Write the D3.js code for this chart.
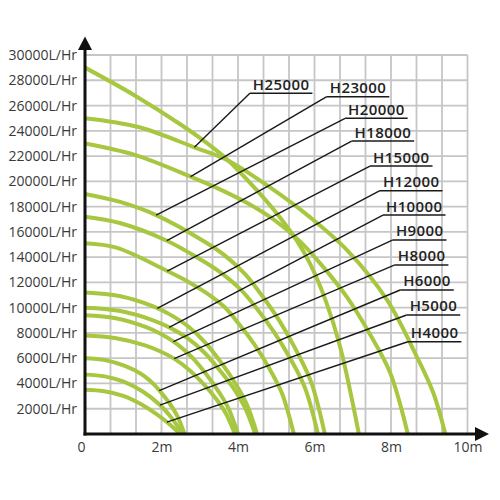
<!DOCTYPE html>
<html>
<head>
<meta charset="utf-8">
<script src="https://cdn.jsdelivr.net/npm/d3@7"></script>
<style>
  html, body { margin: 0; padding: 0; background: #fff; }
  text { font-family: "Open Sans", sans-serif; }
</style>
</head>
<body>
<div id="chart"></div>
<script>
// tick labels
var flowTicks = [2000, 4000, 6000, 8000, 10000, 12000, 14000, 16000,
                 18000, 20000, 22000, 24000, 26000, 28000, 30000];
var distTicks = [0, 2, 4, 6, 8, 10];

// pump curves: head (m) -> flow (L/Hr)
var pumpNames = ['', 'H25000', 'H23000', 'H20000', 'H18000', 'H15000',
                 'H12000', 'H10000', 'H9000', 'H8000', 'H6000', 'H5000', 'H4000'];

var pumpDist = [
  [0, 1.3, 2.5, 3.2, 3.71, 4.49, 5.01, 5.53, 5.88, 6.3, 6.67, 7.16],
  [0, 1.4, 2.86, 3.71, 4.8, 5.88, 6.85, 7.9, 8.68, 9.1, 9.42],
  [0, 1.3, 2.76, 3.5, 4.23, 4.92, 5.62, 6.22, 6.84, 7.45, 7.97, 8.44],
  [0, 0.94, 1.86, 3.14, 3.66, 4.18, 4.62, 5.08, 5.54, 5.92, 6.27],
  [0, 0.91, 2.14, 3.05, 3.55, 4.06, 4.49, 4.93, 5.38, 5.75, 6.09],
  [0, 0.82, 2.15, 2.73, 3.18, 3.64, 4.02, 4.42, 4.82, 5.15, 5.46],
  [0, 0.9, 1.8, 2.25, 2.7, 3.15, 3.6, 3.96, 4.23, 4.5],
  [0, 0.89, 1.78, 2.23, 2.67, 3.12, 3.56, 3.92, 4.18, 4.45],
  [0, 0.8, 1.6, 2.0, 2.4, 2.8, 3.2, 3.52, 3.76, 4.0],
  [0, 0.78, 1.57, 1.96, 2.35, 2.74, 3.14, 3.45, 3.68, 3.92],
  [0, 0.52, 1.04, 1.3, 1.56, 1.82, 2.08, 2.29, 2.44, 2.6],
  [0, 0.51, 1.01, 1.52, 1.96, 2.23, 2.4, 2.53],
  [0, 0.5, 1.0, 1.49, 1.87, 2.14, 2.34, 2.49]
];

var pumpFlow = [
  [29000, 26800, 24500, 23000, 21750, 19300, 17470, 15350, 13500, 10500, 6900, 0],
  [25000, 24300, 22690, 21690, 19600, 17170, 14560, 10600, 6090, 3300, 0],
  [23000, 22100, 20380, 19400, 18300, 17000, 15250, 13250, 10870, 7900, 4900, 0],
  [19000, 18350, 17330, 15200, 14120, 12670, 10980, 8970, 6520, 4050, 0],
  [17200, 16700, 15300, 13760, 12780, 11470, 9940, 8120, 5900, 3660, 0],
  [15100, 14750, 12900, 12000, 11150, 10070, 8730, 7130, 5180, 3220, 0],
  [11200, 10920, 10080, 9410, 8510, 7220, 5490, 3860, 2350, 0],
  [10000, 9750, 9000, 8400, 7600, 6450, 4900, 3450, 2100, 0],
  [9400, 9165, 8460, 7900, 7140, 6060, 4610, 3240, 1975, 0],
  [7800, 7600, 7020, 6550, 5930, 5030, 3820, 2690, 1640, 0],
  [6000, 5850, 5400, 5040, 4560, 3870, 2940, 2070, 1260, 0],
  [4700, 4560, 4140, 3340, 2290, 1410, 705, 0],
  [3500, 3380, 3010, 2310, 1575, 945, 420, 0]
];

// annotation layout: underline start (data units) and head where the leader meets the curve
var labelStart = [null, [4.31, 26970], [6.32, 26700], [6.80, 24990], [6.97, 23190],
  [7.45, 21210], [7.71, 19260], [7.79, 17330], [8.05, 15360], [8.10, 13380],
  [8.24, 11400], [8.41, 9420], [8.44, 7305]];
var leaderAt = [null, 2.86, 2.76, 1.86, 2.14, 2.15, 1.89, 2.20, 2.31, 2.33, 1.94, 1.96, 2.14];

var svg = d3.select('#chart').append('svg')
    .attr('width', 500)
    .attr('height', 500);

var x = d3.scaleLinear().domain([0, 10]).range([85, 467.5]);
var y = d3.scaleLinear().domain([0, 30000]).range([434, 55]);

// grid, 15 x 15 cells
var grid = svg.append('g').attr('stroke', '#c6c6c6').attr('stroke-width', 1.8);
grid.selectAll('line.v')
    .data(d3.range(16).map(function(i) { return i * 10 / 15; }))
    .enter().append('line')
    .attr('x1', function(d) { return x(d); })
    .attr('x2', function(d) { return x(d); })
    .attr('y1', y(0))
    .attr('y2', y(30000));
grid.selectAll('line.h')
    .data(d3.range(16).map(function(i) { return i * 2000; }))
    .enter().append('line')
    .attr('y1', function(d) { return y(d); })
    .attr('y2', function(d) { return y(d); })
    .attr('x1', x(0))
    .attr('x2', x(10));

// curves
var line = d3.line()
    .x(function(d) { return x(d[0]); })
    .y(function(d) { return y(d[1]); })
    .curve(d3.curveCatmullRom.alpha(0.5));

svg.append('g').selectAll('path')
    .data(pumpDist.map(function(dist, i) {
      return dist.map(function(v, j) { return [v, pumpFlow[i][j]]; });
    }))
    .enter().append('path')
    .attr('d', line)
    .attr('fill', 'none')
    .attr('stroke', '#a6c73f')
    .attr('stroke-width', 4);

// flow on a curve at a given head, for the leader ends
function flowAt(i, h) {
  var dist = pumpDist[i], flow = pumpFlow[i];
  var j = d3.bisectRight(dist, h) - 1;
  j = Math.max(0, Math.min(j, dist.length - 2));
  var t = (h - dist[j]) / (dist[j + 1] - dist[j]);
  return flow[j] + t * (flow[j + 1] - flow[j]);
}

// labels with leader lines
var labels = svg.append('g');
pumpNames.forEach(function(name, i) {
  if (!name) return;
  var sx = x(labelStart[i][0]), sy = y(labelStart[i][1]);
  var t = labels.append('text')
      .attr('x', sx + 3)
      .attr('y', sy - 3.5)
      .attr('font-size', 15)
      .attr('font-weight', 600)
      .attr('letter-spacing', 0.4)
      .attr('fill', '#222')
      .text(name);
  var w = t.node().getComputedTextLength();
  labels.append('line')
      .attr('x1', sx).attr('y1', sy)
      .attr('x2', sx + w + 6).attr('y2', sy)
      .attr('stroke', '#1a1a1a').attr('stroke-width', 1.4);
  labels.append('line')
      .attr('x1', sx).attr('y1', sy)
      .attr('x2', x(leaderAt[i])).attr('y2', y(flowAt(i, leaderAt[i])))
      .attr('stroke', '#1a1a1a').attr('stroke-width', 1.4);
});

// axes
var yAxis = svg.append('g')
    .attr('transform', 'translate(' + x(0) + ',0)')
    .call(d3.axisLeft(y).tickValues(flowTicks)
      .tickFormat(function(d) { return d + 'L/Hr'; })
      .tickSize(0).tickPadding(8));
var xAxis = svg.append('g')
    .attr('transform', 'translate(0,' + y(0) + ')')
    .call(d3.axisBottom(x).tickValues(distTicks)
      .tickFormat(function(d) { return d ? d + 'm' : '0'; })
      .tickSize(0).tickPadding(8));
[yAxis, xAxis].forEach(function(a) {
  a.select('.domain').remove();
  a.selectAll('text')
      .attr('font-family', '"Open Sans", sans-serif')
      .attr('font-size', 14)
      .attr('fill', '#3a3a3a');
});
xAxis.selectAll('text').filter(function(d) { return d === 0; }).attr('dx', -4);

svg.append('line')
    .attr('x1', x(0)).attr('y1', y(0) + 1.5)
    .attr('x2', x(0)).attr('y2', 48)
    .attr('stroke', '#111').attr('stroke-width', 3);
svg.append('line')
    .attr('x1', x(0) - 1.5).attr('y1', y(0))
    .attr('x2', 477).attr('y2', y(0))
    .attr('stroke', '#111').attr('stroke-width', 3);
svg.append('path')
    .attr('d', 'M' + (x(0) - 7) + ',50L' + (x(0) + 7) + ',50L' + x(0) + ',36.5Z')
    .attr('fill', '#111');
svg.append('path')
    .attr('d', 'M475,' + (y(0) - 7) + 'L475,' + (y(0) + 7) + 'L489,' + y(0) + 'Z')
    .attr('fill', '#111');
</script>
</body>
</html>
